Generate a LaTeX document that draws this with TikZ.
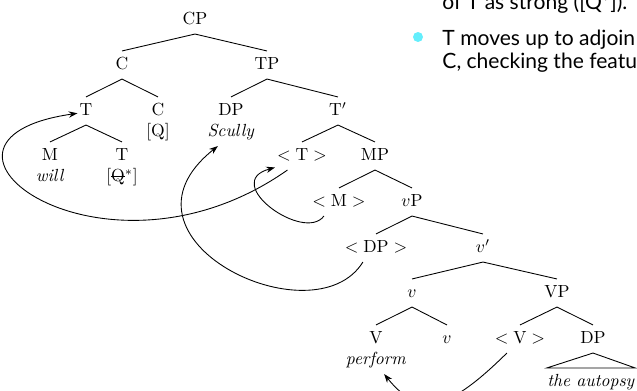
\documentclass[tikz,border=0pt]{standalone}
\usepackage{fontspec}
\newfontfamily\slidefont{Lato}
\usetikzlibrary{
    arrows.meta  % Stealth tips for the movement arrows
}
\definecolor{bulletcyan}{RGB}{100,238,252}
% struck-out feature
\newcommand{\struck}[1]{\setbox0\hbox{#1}\rlap{\raisebox{2.6pt}{\rule{\wd0}{0.45pt}}}\box0}

\begin{document}
\begin{tikzpicture}[x=0.57pt, y=-0.57pt, line width=0.5pt,
    tn/.style={inner xsep=1pt, inner ysep=3.5pt, text height=7pt, text depth=1.5pt},
    slide/.style={anchor=base west, inner sep=0pt, font=\slidefont\fontsize{12}{13}\selectfont},
    mv/.style={-{Stealth[length=5pt,width=3.6pt]}}]
    \useasboundingbox (0,0) rectangle (637,391);
    \clip (0,0) rectangle (637,391);

    % slide text on the right
    \node[slide] (prev) at (442,9) {of T as strong ([Q$^*$]).};
    \node[circle, fill=bulletcyan, inner sep=0pt, minimum size=5.7pt] (bul) at (418,37) {};
    \node[slide] (lineone) at (442,45) {T moves up to adjoin};
    \node[slide] (linetwo) at (442,68) {C, checking the feature};

    % the tree
    \begin{scope}[every node/.style=tn]
        \node (cp) at (195,20) {CP};
        \node (c) at (122,65) {C};
        \node (tp) at (267,65) {TP};
        \node (t) at (86,111) {T};
        \node (cq) at (158,111) {C};
        \node (cqf) at (158,132) {[Q]};
        \node (dps) at (231,111) {DP};
        \node (scully) at (231,132) {\textit{Scully}};
        \node (tbar) at (338,111) {T$'$};
        \node (m) at (50,156) {M};
        \node (will) at (50,177) {\textit{will}};
        \node (tq) at (122,156) {T};
        \node (tqf) at (122,177) {[\struck{Q}$^*$]};
        \node (ttr) at (302,156) {$<\mathrm{T}>$};
        \node (mp) at (375,156) {MP};
        \node (mtr) at (339,202) {$<\mathrm{M}>$};
        \node (vp) at (412,202) {$v$P};
        \node (dptr) at (376,248) {$<\mathrm{DP}>$};
        \node (vbar) at (483,248) {$v'$};
        \node (vsm) at (412,293) {$v$};
        \node (vbp) at (557,293) {VP};
        \node (vv) at (376,339) {V};
        \node (perform) at (376,360) {\textit{perform}};
        \node (vsmb) at (447,339) {$v$};
        \node (vtr) at (520,339) {$<\mathrm{V}>$};
        \node (dpo) at (593,339) {DP};
        \node[inner xsep=0pt] (autopsy) at (591,382) {\textit{the autopsy}};
    \end{scope}

    \foreach \a/\b in {cp/c, cp/tp, c/t, c/cq, tp/dps, tp/tbar, t/m, t/tq,
        tbar/ttr, tbar/mp, mp/mtr, mp/vp, vp/dptr, vp/vbar, vbar/vsm, vbar/vbp,
        vsm/vv, vsm/vsmb, vbp/vtr, vbp/dpo}
        \draw (\a.south) -- (\b.north);
    \draw (dpo.south) -- (autopsy.north west) -- (autopsy.north east) -- cycle;

    % movements
    \draw[mv] (ttr.-136) .. controls +(-185,130) and +(-188,27) .. (t.-165);
    \draw[mv] (dptr.-133) .. controls +(-49,79) and +(-117,93) .. (scully.-133);
    \draw[mv] (mtr.-137) .. controls +(-20,27) and +(-55,15) .. (ttr.-157);
    \draw[mv] (vtr.-133) .. controls +(-56,55) and +(37,46) .. (perform.-60);
\end{tikzpicture}
\end{document}
